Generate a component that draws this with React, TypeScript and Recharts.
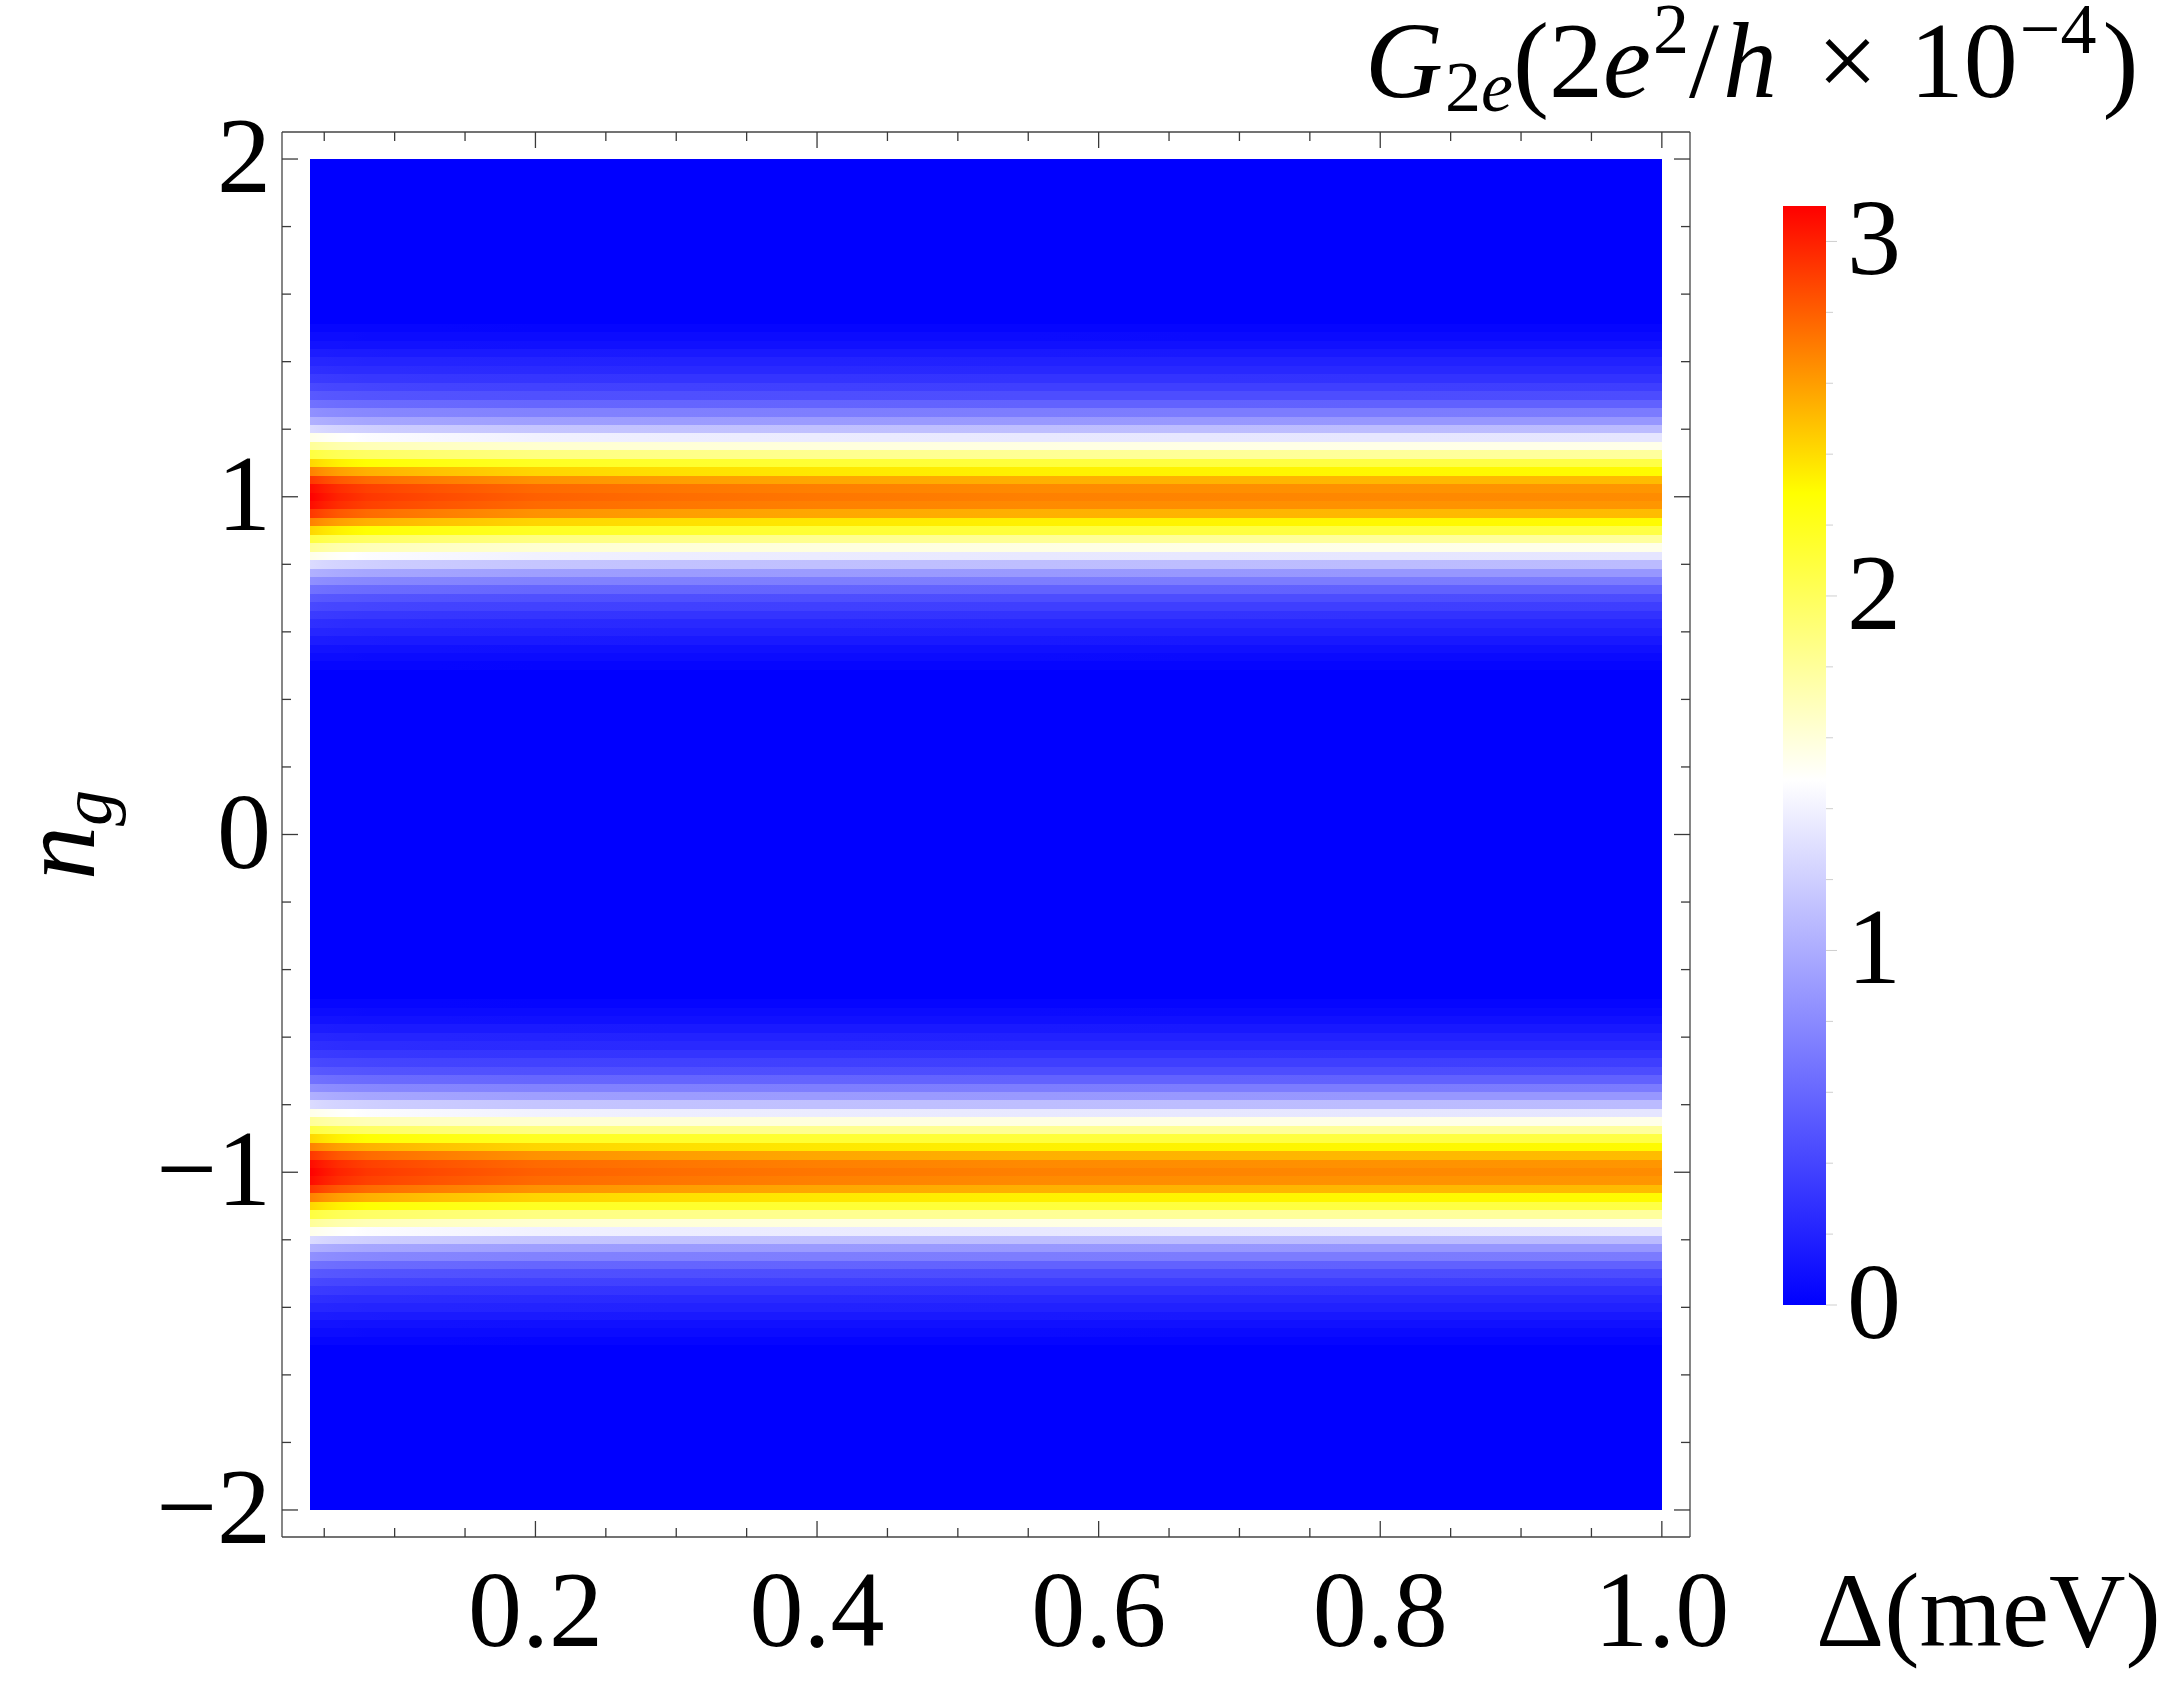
import React from 'react';
import { ComposedChart, XAxis, YAxis, ReferenceArea } from 'recharts';

// ---------- data ----------
// data extent of the density plot
const DELTA_RANGE = [0.04, 1.0];
const NG_RANGE = [-2, 2];
// frame (plot range incl. padding)
const X_DOMAIN = [0.02, 1.02];
const Y_DOMAIN = [-2.08, 2.08];

// conductance peaks sit at n_g = ±1
const BAND_CENTERS = [1, -1];
const NG_STEP = 0.025;
// G2e (×1e-4 · 2e²/h) at Δ = 1.0 meV, row k = |n_g ∓ 1| / 0.025
const NG_PROFILE = [2.64, 2.61, 2.49, 2.29, 2.06, 1.78, 1.54, 1.32, 1.08, 0.87, 0.71, 0.56, 0.44, 0.36, 0.29, 0.23, 0.19, 0.14, 0.09, 0.06, 0.03];

// peak value (n_g = ±1) along Δ
const DELTA_SAMPLES = [0.04, 0.05, 0.06, 0.07, 0.08, 0.1, 0.13, 0.2, 0.3, 0.4, 0.55, 0.67, 0.8, 1.0];
const PEAK_VALUES = [3.1, 3.04, 2.99, 2.96, 2.93, 2.9, 2.865, 2.795, 2.755, 2.725, 2.693, 2.68, 2.667, 2.655];

// ticks
const X_TICKS = [0.05, 0.1, 0.15, 0.2, 0.25, 0.3, 0.35, 0.4, 0.45, 0.5, 0.55, 0.6, 0.65, 0.7, 0.75, 0.8, 0.85, 0.9, 0.95, 1.0];
const X_LABELS = [0.2, 0.4, 0.6, 0.8, 1.0];
const Y_TICKS = [-2, -1.8, -1.6, -1.4, -1.2, -1, -0.8, -0.6, -0.4, -0.2, 0, 0.2, 0.4, 0.6, 0.8, 1, 1.2, 1.4, 1.6, 1.8, 2];
const Y_LABELS = [-2, -1, 0, 1, 2];
const CB_DOMAIN = [0, 3.1];
const CB_TICKS = [0, 0.2, 0.4, 0.6, 0.8, 1, 1.2, 1.4, 1.6, 1.8, 2, 2.2, 2.4, 2.6, 2.8, 3];
const CB_LABELS = [0, 1, 2, 3];

// colour map: blue -> white -> yellow -> red
const COLOR_STOPS: { v: number; c: number[] }[] = [
  { v: 0, c: [0, 0, 255] },
  { v: 1.48, c: [255, 255, 255] },
  { v: 2.29, c: [255, 255, 0] },
  { v: 3.1, c: [255, 0, 0] },
];

// ---------- styling ----------
const FONT = '"Liberation Serif", "Times New Roman", serif';
const FS = 108;
const FRAME = '#444444';
const TICK = '#3a3a3a';
const MAJOR_LEN = 16;
const MINOR_LEN = 9;

const near = (a: number, list: number[]) => list.some((l) => Math.abs(l - a) < 1e-9);

function colorFor(value: number): string {
  const v = Math.max(COLOR_STOPS[0].v, Math.min(COLOR_STOPS[COLOR_STOPS.length - 1].v, value));
  for (let i = 0; i < COLOR_STOPS.length - 1; i++) {
    const a = COLOR_STOPS[i];
    const b = COLOR_STOPS[i + 1];
    if (v <= b.v) {
      const t = (v - a.v) / (b.v - a.v);
      const c = a.c.map((x, j) => Math.round(x + (b.c[j] - x) * t));
      return `rgb(${c[0]},${c[1]},${c[2]})`;
    }
  }
  const c = COLOR_STOPS[COLOR_STOPS.length - 1].c;
  return `rgb(${c[0]},${c[1]},${c[2]})`;
}

// rows of the density plot (one per n_g cell), each coloured along Δ
type Row = { id: string; ng: number; k: number };
const ROWS: Row[] = BAND_CENTERS.flatMap((c, bi) =>
  NG_PROFILE.flatMap((_, k) =>
    k === 0
      ? [{ id: `r${bi}_0`, ng: c, k }]
      : [
          { id: `r${bi}_m${k}`, ng: c - k * NG_STEP, k },
          { id: `r${bi}_p${k}`, ng: c + k * NG_STEP, k },
        ]
  )
);

const rowValue = (k: number, j: number) => (NG_PROFILE[k] * PEAK_VALUES[j]) / NG_PROFILE[0];

// table the chart is bound to (Δ samples and their peak value)
const PEAK_TABLE = DELTA_SAMPLES.map((d, j) => ({ delta: d, peak: PEAK_VALUES[j] }));
const CB_TABLE = [{ u: 0 }, { u: 1 }];

// ---------- tick renderers ----------
function BottomTick(props: any) {
  const { x, y, payload } = props;
  const v = payload.value;
  const major = near(v, X_LABELS);
  return (
    <g>
      <line x1={x} x2={x} y1={y} y2={y - (major ? MAJOR_LEN : MINOR_LEN)} stroke={TICK} strokeWidth={1.3} />
      {major && (
        <text x={x} y={y + 109} textAnchor="middle" fontFamily={FONT} fontSize={FS} fill="#000">
          {v.toFixed(1)}
        </text>
      )}
    </g>
  );
}

function TopTick(props: any) {
  const { x, y, payload } = props;
  const major = near(payload.value, X_LABELS);
  return <line x1={x} x2={x} y1={y} y2={y + (major ? MAJOR_LEN : MINOR_LEN)} stroke={TICK} strokeWidth={1.3} />;
}

function LeftTick(props: any) {
  const { x, y, payload } = props;
  const v = payload.value;
  const major = near(v, Y_LABELS);
  const label = v < 0 ? `\u2212${Math.abs(v)}` : `${v}`;
  return (
    <g>
      <line x1={x} x2={x + (major ? MAJOR_LEN : MINOR_LEN)} y1={y} y2={y} stroke={TICK} strokeWidth={1.3} />
      {major && (
        <text x={x - 11} y={y + 33} textAnchor="end" fontFamily={FONT} fontSize={FS} fill="#000">
          {label}
        </text>
      )}
    </g>
  );
}

function RightTick(props: any) {
  const { x, y, payload } = props;
  const major = near(payload.value, Y_LABELS);
  return <line x1={x} x2={x - (major ? MAJOR_LEN : MINOR_LEN)} y1={y} y2={y} stroke={TICK} strokeWidth={1.3} />;
}

function ColorbarTick(props: any) {
  const { x, y, payload } = props;
  const v = payload.value;
  const major = near(v, CB_LABELS);
  return (
    <g>
      <line x1={x} x2={x + (major ? 11 : 7)} y1={y} y2={y} stroke="#cfcfcf" strokeWidth={1} />
      {major && (
        <text x={x + 21} y={y + 33} textAnchor="start" fontFamily={FONT} fontSize={FS} fill="#000">
          {v}
        </text>
      )}
    </g>
  );
}

const gradOffset = (d: number) => (d - DELTA_RANGE[0]) / (DELTA_RANGE[1] - DELTA_RANGE[0]);

export default function App() {
  const half = NG_STEP / 2;
  return (
    <div style={{ position: 'absolute', left: 0, top: 0, width: 2181, height: 1682, background: '#fff' }}>
      <ComposedChart
        width={2181}
        height={1682}
        data={PEAK_TABLE}
        margin={{ top: 92, right: 451, bottom: 105, left: 242 }}
      >
        <defs>
          {ROWS.map((r) => (
            <linearGradient key={r.id} id={r.id} x1="0" y1="0" x2="1" y2="0">
              {DELTA_SAMPLES.map((d, j) => (
                <stop key={j} offset={gradOffset(d)} stopColor={colorFor(rowValue(r.k, j))} />
              ))}
            </linearGradient>
          ))}
        </defs>
        <XAxis
          xAxisId={0}
          dataKey="delta"
          type="number"
          domain={X_DOMAIN}
          ticks={X_TICKS}
          interval={0}
          tick={<BottomTick />}
          tickLine={false}
          tickSize={0}
          tickMargin={0}
          height={40}
          axisLine={{ stroke: FRAME, strokeWidth: 1.3 }}
          allowDataOverflow
        />
        <XAxis
          xAxisId="top"
          dataKey="delta"
          orientation="top"
          type="number"
          domain={X_DOMAIN}
          ticks={X_TICKS}
          interval={0}
          tick={<TopTick />}
          tickLine={false}
          tickSize={0}
          tickMargin={0}
          height={40}
          axisLine={{ stroke: FRAME, strokeWidth: 1.3 }}
          allowDataOverflow
        />
        <YAxis
          yAxisId={0}
          type="number"
          domain={Y_DOMAIN}
          ticks={Y_TICKS}
          interval={0}
          tick={<LeftTick />}
          tickLine={false}
          tickSize={0}
          tickMargin={0}
          width={40}
          axisLine={{ stroke: FRAME, strokeWidth: 1.3 }}
          allowDataOverflow
        />
        <YAxis
          yAxisId="right"
          orientation="right"
          type="number"
          domain={Y_DOMAIN}
          ticks={Y_TICKS}
          interval={0}
          tick={<RightTick />}
          tickLine={false}
          tickSize={0}
          tickMargin={0}
          width={40}
          axisLine={{ stroke: FRAME, strokeWidth: 1.3 }}
          allowDataOverflow
        />
        <ReferenceArea
          xAxisId={0}
          yAxisId={0}
          x1={DELTA_RANGE[0]}
          x2={DELTA_RANGE[1]}
          y1={NG_RANGE[0]}
          y2={NG_RANGE[1]}
          fill={colorFor(0)}
          fillOpacity={1}
          stroke="none"
          ifOverflow="visible"
          shapeRendering="crispEdges"
        />
        {ROWS.map((r) => (
          <ReferenceArea
            key={r.id}
            xAxisId={0}
            yAxisId={0}
            x1={DELTA_RANGE[0]}
            x2={DELTA_RANGE[1]}
            y1={Math.max(NG_RANGE[0], r.ng - half)}
            y2={Math.min(NG_RANGE[1], r.ng + half)}
            fill={`url(#${r.id})`}
            fillOpacity={1}
            stroke="none"
            ifOverflow="visible"
            shapeRendering="crispEdges"
          />
        ))}
        {/* axis titles */}
        <text x={1816} y={1646} fontFamily={FONT} fontSize={106} fill="#000">
          {'\u0394(meV)'}
        </text>
        <text x={94} y={835} transform="rotate(-90 94 835)" textAnchor="middle" fontFamily={FONT} fontSize={FS} fill="#000">
          <tspan fontStyle="italic">n</tspan>
          <tspan fontStyle="italic" fontSize={72} dy={17}>g</tspan>
        </text>
        <text x={1365} y={97} fontFamily={FONT} fontSize={FS} fill="#000">
          <tspan fontStyle="italic">G</tspan>
          <tspan fontSize={72} dy={14} dx={2}>2</tspan>
          <tspan fontSize={72} fontStyle="italic">e</tspan>
          <tspan dy={-14}>(2</tspan>
          <tspan fontStyle="italic">e</tspan>
          <tspan fontSize={72} dy={-44} dx={2}>2</tspan>
          <tspan dy={44}>/</tspan>
          <tspan fontStyle="italic" dx={4}>h</tspan>
          <tspan dx={40}>{'\u00d7'}</tspan>
          <tspan dx={32}>10</tspan>
          <tspan fontSize={72} dy={-44} dx={2}>{'\u22124'}</tspan>
          <tspan dy={44} dx={6}>)</tspan>
        </text>
      </ComposedChart>

      {/* colour bar */}
      <div style={{ position: 'absolute', left: 1700, top: 150 }}>
        <ComposedChart width={400} height={1250} data={CB_TABLE} margin={{ top: 56, right: 234, bottom: 95, left: 83 }}>
          <defs>
            <linearGradient id="cbGrad" x1="0" y1="1" x2="0" y2="0">
              {COLOR_STOPS.map((s, i) => (
                <stop key={i} offset={s.v / CB_DOMAIN[1]} stopColor={`rgb(${s.c[0]},${s.c[1]},${s.c[2]})`} />
              ))}
            </linearGradient>
          </defs>
          <XAxis xAxisId={0} dataKey="u" type="number" domain={[0, 1]} hide height={0} />
          <YAxis
            yAxisId={0}
            orientation="right"
            type="number"
            domain={CB_DOMAIN}
            ticks={CB_TICKS}
            interval={0}
            tick={<ColorbarTick />}
            tickLine={false}
            tickSize={0}
            tickMargin={0}
            axisLine={false}
            width={40}
            allowDataOverflow
          />
          <ReferenceArea
            xAxisId={0}
            yAxisId={0}
            x1={0}
            x2={1}
            y1={CB_DOMAIN[0]}
            y2={CB_DOMAIN[1]}
            fill="url(#cbGrad)"
            fillOpacity={1}
            stroke="none"
            ifOverflow="visible"
          />
        </ComposedChart>
      </div>
    </div>
  );
}
